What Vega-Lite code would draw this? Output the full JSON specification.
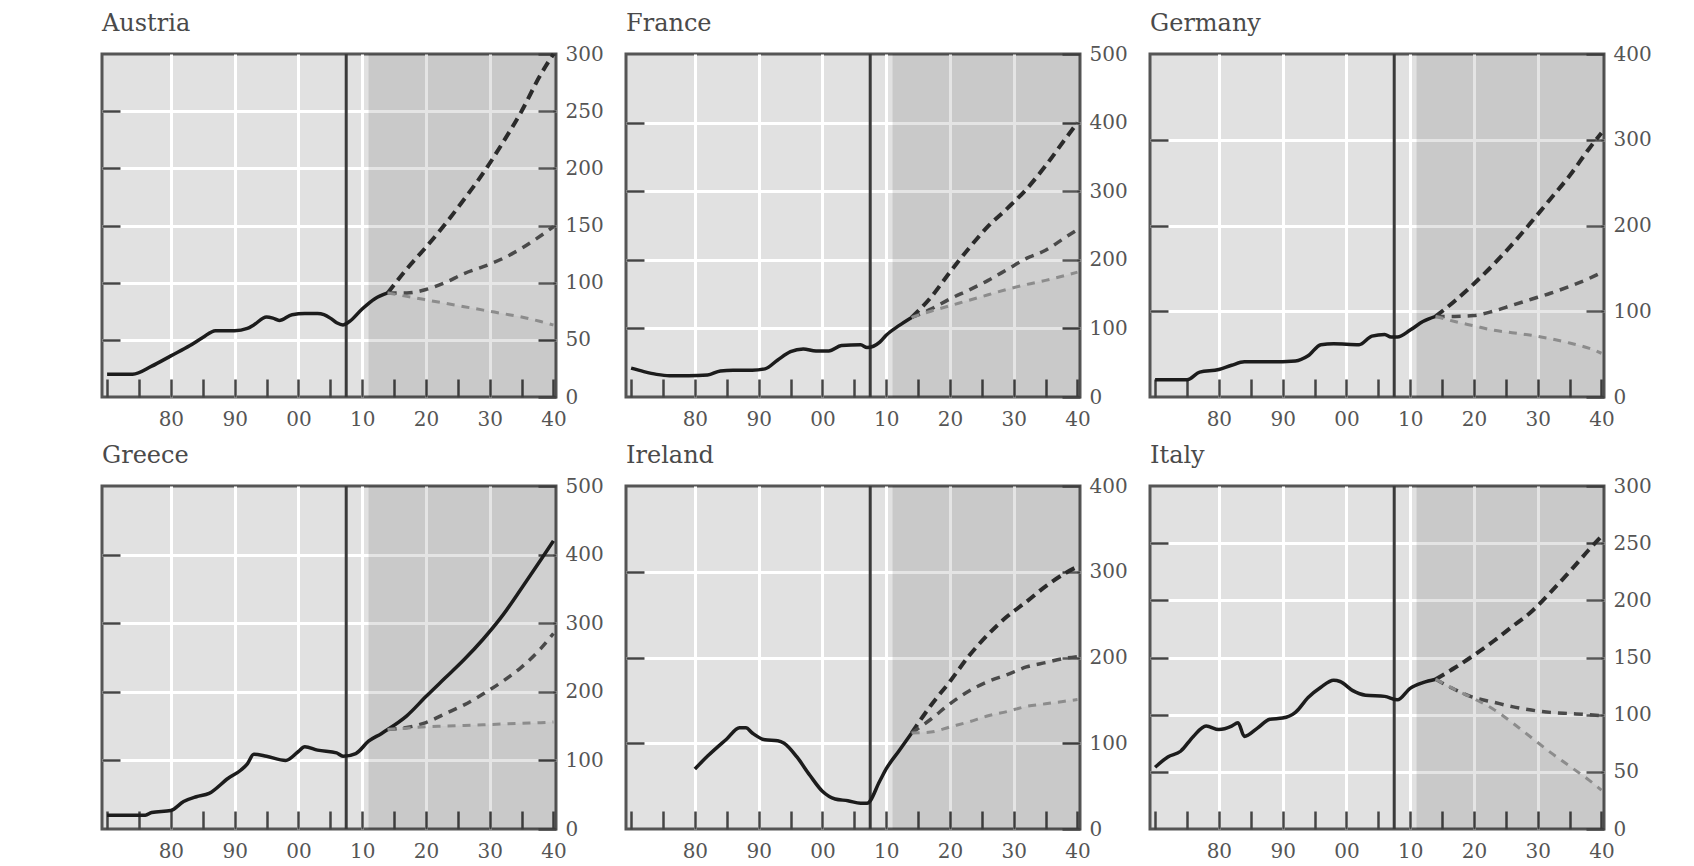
{
"$schema":"https://vega.github.io/schema/vega-lite/v6.json",
"background":"#ffffff",
"padding":{"left":98,"top":10,"right":5,"bottom":0},
"config":{
 "view":{"fill":"#e1e1e1","stroke":"#555555","strokeWidth":3},
 "title":{"font":"DejaVu Serif","fontSize":24,"fontWeight":"normal","color":"#4a4a4a","anchor":"start","frame":"group","baseline":"alphabetic","offset":8},
 "axis":{"labelFont":"DejaVu Serif","labelFontSize":20,"labelColor":"#555555"}
},
"datasets":{
 "austria":[
  {"year":1970,"hist":20},{"year":1974,"hist":20},{"year":1977,"hist":27},{"year":1980,"hist":36},{"year":1983,"hist":45},{"year":1985,"hist":52},{"year":1987,"hist":58},{"year":1990,"hist":58},{"year":1992,"hist":60},{"year":1993,"hist":63},{"year":1995,"hist":70},{"year":1996,"hist":69},{"year":1997,"hist":67},{"year":1999,"hist":72},{"year":2001,"hist":73},{"year":2003,"hist":73},{"year":2004,"hist":72},{"year":2005,"hist":69},{"year":2006,"hist":65},{"year":2007,"hist":63},{"year":2008,"hist":66},{"year":2010,"hist":77},{"year":2012,"hist":86},
  {"year":2014,"hist":91,"high":91,"mid":91,"low":91},
  {"year":2017,"high":112,"mid":91,"low":88},{"year":2020,"high":131,"mid":94,"low":85},{"year":2023,"high":151,"mid":100,"low":82},{"year":2026,"high":173,"mid":108,"low":79},{"year":2029,"high":196,"mid":114,"low":76},{"year":2032,"high":222,"mid":121,"low":73},{"year":2035,"high":250,"mid":130,"low":70},{"year":2038,"high":282,"mid":141,"low":66},{"year":2040,"high":300,"mid":149,"low":63}
 ],
 "france":[
  {"year":1970,"hist":42},{"year":1972,"hist":37},{"year":1974,"hist":33},{"year":1976,"hist":31},{"year":1979,"hist":31},{"year":1982,"hist":32},{"year":1984,"hist":38},{"year":1986,"hist":39},{"year":1989,"hist":39},{"year":1991,"hist":41},{"year":1993,"hist":54},{"year":1995,"hist":66},{"year":1997,"hist":70},{"year":1999,"hist":67},{"year":2001,"hist":67},{"year":2003,"hist":75},{"year":2006,"hist":76},{"year":2007,"hist":72},{"year":2009,"hist":80},{"year":2010,"hist":90},{"year":2012,"hist":104},
  {"year":2014,"hist":116,"high":116,"mid":116,"low":116},
  {"year":2017,"high":145,"mid":128,"low":125},{"year":2020,"high":182,"mid":143,"low":133},{"year":2023,"high":217,"mid":156,"low":141},{"year":2026,"high":249,"mid":170,"low":149},{"year":2029,"high":275,"mid":186,"low":157},{"year":2032,"high":303,"mid":202,"low":164},{"year":2035,"high":337,"mid":214,"low":170},{"year":2038,"high":375,"mid":232,"low":177},{"year":2040,"high":400,"mid":244,"low":182}
 ],
 "germany":[
  {"year":1970,"hist":20},{"year":1975,"hist":20},{"year":1977,"hist":29},{"year":1980,"hist":32},{"year":1982,"hist":37},{"year":1984,"hist":41},{"year":1988,"hist":41},{"year":1992,"hist":42},{"year":1994,"hist":48},{"year":1996,"hist":61},{"year":1998,"hist":62},{"year":2002,"hist":61},{"year":2004,"hist":71},{"year":2006,"hist":73},{"year":2007,"hist":70},{"year":2008,"hist":70},{"year":2010,"hist":78},{"year":2012,"hist":88},
  {"year":2014,"hist":94,"high":94,"mid":94,"low":94},
  {"year":2017,"high":112,"mid":94,"low":88},{"year":2020,"high":132,"mid":95,"low":83},{"year":2023,"high":154,"mid":100,"low":78},{"year":2026,"high":178,"mid":107,"low":75},{"year":2029,"high":204,"mid":114,"low":72},{"year":2032,"high":231,"mid":121,"low":68},{"year":2035,"high":258,"mid":129,"low":63},{"year":2038,"high":289,"mid":138,"low":57},{"year":2040,"high":308,"mid":145,"low":51}
 ],
 "greece":[
  {"year":1970,"hist":20},{"year":1976,"hist":20},{"year":1977,"hist":24},{"year":1980,"hist":27},{"year":1982,"hist":40},{"year":1984,"hist":47},{"year":1986,"hist":52},{"year":1989,"hist":74},{"year":1991,"hist":86},{"year":1992,"hist":95},{"year":1993,"hist":109},{"year":1995,"hist":106},{"year":1998,"hist":100},{"year":2000,"hist":113},{"year":2001,"hist":120},{"year":2003,"hist":115},{"year":2006,"hist":111},{"year":2007,"hist":106},{"year":2009,"hist":110},{"year":2011,"hist":128},{"year":2013,"hist":139},
  {"year":2014,"hist":145,"high":145,"mid":145,"low":145},
  {"year":2017,"high":165,"mid":148,"low":147},{"year":2020,"high":193,"mid":155,"low":149},{"year":2023,"high":220,"mid":168,"low":150},{"year":2026,"high":247,"mid":181,"low":151},{"year":2029,"high":277,"mid":197,"low":152},{"year":2032,"high":311,"mid":215,"low":153},{"year":2035,"high":351,"mid":236,"low":154},{"year":2038,"high":392,"mid":263,"low":155},{"year":2040,"high":420,"mid":285,"low":156}
 ],
 "ireland":[
  {"year":1980,"hist":70},{"year":1982,"hist":85},{"year":1985,"hist":105},{"year":1987,"hist":118},{"year":1988,"hist":118},{"year":1989,"hist":112},{"year":1991,"hist":104},{"year":1993,"hist":103},{"year":1994,"hist":100},{"year":1996,"hist":84},{"year":1998,"hist":63},{"year":2000,"hist":44},{"year":2002,"hist":35},{"year":2004,"hist":33},{"year":2006,"hist":30},{"year":2007,"hist":30},{"year":2009,"hist":56},{"year":2010,"hist":70},{"year":2012,"hist":91},
  {"year":2014,"hist":112,"high":112,"mid":112,"low":112},
  {"year":2017,"high":144,"mid":128,"low":113},{"year":2020,"high":172,"mid":146,"low":119},{"year":2023,"high":202,"mid":161,"low":125},{"year":2026,"high":227,"mid":172,"low":132},{"year":2029,"high":248,"mid":180,"low":137},{"year":2032,"high":265,"mid":189,"low":143},{"year":2035,"high":283,"mid":194,"low":146},{"year":2038,"high":298,"mid":199,"low":149},{"year":2040,"high":306,"mid":201,"low":151}
 ],
 "italy":[
  {"year":1970,"hist":54},{"year":1972,"hist":63},{"year":1974,"hist":68},{"year":1976,"hist":81},{"year":1978,"hist":90},{"year":1980,"hist":87},{"year":1982,"hist":90},{"year":1983,"hist":93},{"year":1984,"hist":81},{"year":1986,"hist":88},{"year":1988,"hist":96},{"year":1990,"hist":97},{"year":1992,"hist":102},{"year":1994,"hist":115},{"year":1996,"hist":124},{"year":1998,"hist":130},{"year":1999,"hist":129},{"year":2001,"hist":121},{"year":2003,"hist":117},{"year":2006,"hist":116},{"year":2008,"hist":113},{"year":2010,"hist":123},{"year":2012,"hist":128},
  {"year":2014,"hist":131,"high":131,"mid":131,"low":131},
  {"year":2017,"high":141,"mid":122,"low":122},{"year":2020,"high":152,"mid":115,"low":114},{"year":2023,"high":164,"mid":111,"low":105},{"year":2026,"high":177,"mid":107,"low":93},{"year":2029,"high":190,"mid":104,"low":80},{"year":2032,"high":207,"mid":102,"low":67},{"year":2035,"high":225,"mid":101,"low":55},{"year":2038,"high":244,"mid":100,"low":43},{"year":2040,"high":256,"mid":99,"low":34}
 ]
},
"columns":3,
"bounds":"flush",
"spacing":{"row":89,"column":70},
"concat":[
{"width":454,"height":343,"title":"Austria","data":{"name":"austria"},
 "resolve":{"axis":{"x":"independent","y":"independent"}},
 "layer":[
  {"data":{"values":[{}]},"mark":{"type":"rect","fill":"#000000","opacity":0.105},
   "encoding":{"x":{"datum":2011,"type":"quantitative","scale":{"domain":[1969.2,2040.4],"nice":false,"zero":false},"axis":null},"x2":{"datum":2040.4}}},
  {"transform":[{"filter":"isValid(datum.low) && isValid(datum.high)"}],"mark":{"type":"area","fill":"#ffffff","opacity":0.14,"interpolate":"monotone"},
   "encoding":{"x":{"field":"year","type":"quantitative","scale":{"domain":[1969.2,2040.4],"nice":false,"zero":false},"axis":null},"y":{"field":"low","type":"quantitative","scale":{"domain":[0,300],"nice":false},"axis":null},"y2":{"field":"high"}}},
  {"data":{"values":[{}]},"mark":{"type":"rule","stroke":"#3a3a3a","strokeWidth":3},
   "encoding":{"x":{"datum":2007.5,"type":"quantitative","scale":{"domain":[1969.2,2040.4],"nice":false,"zero":false},"axis":null}}},
  {"transform":[{"filter":"isValid(datum.hist)"}],"mark":{"type":"line","stroke":"#1c1c1c","strokeWidth":3.5,"interpolate":"monotone"},
   "encoding":{"x":{"field":"year","type":"quantitative","scale":{"domain":[1969.2,2040.4],"nice":false,"zero":false},"axis":{"orient":"bottom","values":[1980,1990,2000,2010,2020,2030],"grid":true,"gridColor":"#ffffff","gridWidth":3,"gridOpacity":1,"ticks":false,"labels":false,"domain":false,"title":null}},
    "y":{"field":"hist","type":"quantitative","scale":{"domain":[0,300],"nice":false},"axis":{"orient":"left","values":[50,100,150,200,250],"grid":true,"gridColor":"#ffffff","gridWidth":3,"gridOpacity":1,"ticks":true,"tickSize":-18,"tickWidth":2.5,"tickColor":"#444444","labels":false,"domain":false,"title":null,"minExtent":0,"maxExtent":0}}}},
  {"transform":[{"filter":"isValid(datum.high)"}],"mark":{"type":"line","stroke":"#2b2b2b","strokeWidth":4,"strokeDash":[10,6],"interpolate":"monotone"},
   "encoding":{"x":{"field":"year","type":"quantitative","scale":{"domain":[1969.2,2040.4],"nice":false,"zero":false},"axis":{"orient":"bottom","values":[1970,1975,1980,1985,1990,1995,2000,2005,2010,2015,2020,2025,2030,2035,2040],"grid":false,"ticks":true,"tickSize":-18,"tickWidth":2.5,"tickColor":"#444444","labels":true,"format":"d","labelExpr":"datum.value % 10 == 0 && datum.value >= 1980 ? substring(datum.label, 2) : ''","labelPadding":30,"labelOverlap":false,"labelFlush":false,"domain":false,"title":null}},
    "y":{"field":"high","type":"quantitative","scale":{"domain":[0,300],"nice":false},"axis":{"orient":"right","values":[0,50,100,150,200,250,300],"grid":false,"ticks":true,"tickSize":-18,"tickWidth":2.5,"tickColor":"#444444","labels":true,"labelPadding":27,"labelOverlap":false,"domain":false,"title":null}}}},
  {"transform":[{"filter":"isValid(datum.mid)"}],"mark":{"type":"line","stroke":"#4a4a4a","strokeWidth":3.5,"strokeDash":[9,7],"interpolate":"monotone"},
   "encoding":{"x":{"field":"year","type":"quantitative","scale":{"domain":[1969.2,2040.4],"nice":false,"zero":false},"axis":null},"y":{"field":"mid","type":"quantitative","scale":{"domain":[0,300],"nice":false},"axis":null}}},
  {"transform":[{"filter":"isValid(datum.low)"}],"mark":{"type":"line","stroke":"#8c8c8c","strokeWidth":3,"strokeDash":[8,7],"interpolate":"monotone"},
   "encoding":{"x":{"field":"year","type":"quantitative","scale":{"domain":[1969.2,2040.4],"nice":false,"zero":false},"axis":null},"y":{"field":"low","type":"quantitative","scale":{"domain":[0,300],"nice":false},"axis":null}}}
 ]},
{"width":454,"height":343,"title":"France","data":{"name":"france"},
 "resolve":{"axis":{"x":"independent","y":"independent"}},
 "layer":[
  {"data":{"values":[{}]},"mark":{"type":"rect","fill":"#000000","opacity":0.105},
   "encoding":{"x":{"datum":2011,"type":"quantitative","scale":{"domain":[1969.2,2040.4],"nice":false,"zero":false},"axis":null},"x2":{"datum":2040.4}}},
  {"transform":[{"filter":"isValid(datum.low) && isValid(datum.high)"}],"mark":{"type":"area","fill":"#ffffff","opacity":0.14,"interpolate":"monotone"},
   "encoding":{"x":{"field":"year","type":"quantitative","scale":{"domain":[1969.2,2040.4],"nice":false,"zero":false},"axis":null},"y":{"field":"low","type":"quantitative","scale":{"domain":[0,500],"nice":false},"axis":null},"y2":{"field":"high"}}},
  {"data":{"values":[{}]},"mark":{"type":"rule","stroke":"#3a3a3a","strokeWidth":3},
   "encoding":{"x":{"datum":2007.5,"type":"quantitative","scale":{"domain":[1969.2,2040.4],"nice":false,"zero":false},"axis":null}}},
  {"transform":[{"filter":"isValid(datum.hist)"}],"mark":{"type":"line","stroke":"#1c1c1c","strokeWidth":3.5,"interpolate":"monotone"},
   "encoding":{"x":{"field":"year","type":"quantitative","scale":{"domain":[1969.2,2040.4],"nice":false,"zero":false},"axis":{"orient":"bottom","values":[1980,1990,2000,2010,2020,2030],"grid":true,"gridColor":"#ffffff","gridWidth":3,"gridOpacity":1,"ticks":false,"labels":false,"domain":false,"title":null}},
    "y":{"field":"hist","type":"quantitative","scale":{"domain":[0,500],"nice":false},"axis":{"orient":"left","values":[100,200,300,400],"grid":true,"gridColor":"#ffffff","gridWidth":3,"gridOpacity":1,"ticks":true,"tickSize":-18,"tickWidth":2.5,"tickColor":"#444444","labels":false,"domain":false,"title":null,"minExtent":0,"maxExtent":0}}}},
  {"transform":[{"filter":"isValid(datum.high)"}],"mark":{"type":"line","stroke":"#2b2b2b","strokeWidth":4,"strokeDash":[10,6],"interpolate":"monotone"},
   "encoding":{"x":{"field":"year","type":"quantitative","scale":{"domain":[1969.2,2040.4],"nice":false,"zero":false},"axis":{"orient":"bottom","values":[1970,1975,1980,1985,1990,1995,2000,2005,2010,2015,2020,2025,2030,2035,2040],"grid":false,"ticks":true,"tickSize":-18,"tickWidth":2.5,"tickColor":"#444444","labels":true,"format":"d","labelExpr":"datum.value % 10 == 0 && datum.value >= 1980 ? substring(datum.label, 2) : ''","labelPadding":30,"labelOverlap":false,"labelFlush":false,"domain":false,"title":null}},
    "y":{"field":"high","type":"quantitative","scale":{"domain":[0,500],"nice":false},"axis":{"orient":"right","values":[0,100,200,300,400,500],"grid":false,"ticks":true,"tickSize":-18,"tickWidth":2.5,"tickColor":"#444444","labels":true,"labelPadding":27,"labelOverlap":false,"domain":false,"title":null}}}},
  {"transform":[{"filter":"isValid(datum.mid)"}],"mark":{"type":"line","stroke":"#4a4a4a","strokeWidth":3.5,"strokeDash":[9,7],"interpolate":"monotone"},
   "encoding":{"x":{"field":"year","type":"quantitative","scale":{"domain":[1969.2,2040.4],"nice":false,"zero":false},"axis":null},"y":{"field":"mid","type":"quantitative","scale":{"domain":[0,500],"nice":false},"axis":null}}},
  {"transform":[{"filter":"isValid(datum.low)"}],"mark":{"type":"line","stroke":"#8c8c8c","strokeWidth":3,"strokeDash":[8,7],"interpolate":"monotone"},
   "encoding":{"x":{"field":"year","type":"quantitative","scale":{"domain":[1969.2,2040.4],"nice":false,"zero":false},"axis":null},"y":{"field":"low","type":"quantitative","scale":{"domain":[0,500],"nice":false},"axis":null}}}
 ]},
{"width":454,"height":343,"title":"Germany","data":{"name":"germany"},
 "resolve":{"axis":{"x":"independent","y":"independent"}},
 "layer":[
  {"data":{"values":[{}]},"mark":{"type":"rect","fill":"#000000","opacity":0.105},
   "encoding":{"x":{"datum":2011,"type":"quantitative","scale":{"domain":[1969.2,2040.4],"nice":false,"zero":false},"axis":null},"x2":{"datum":2040.4}}},
  {"transform":[{"filter":"isValid(datum.low) && isValid(datum.high)"}],"mark":{"type":"area","fill":"#ffffff","opacity":0.14,"interpolate":"monotone"},
   "encoding":{"x":{"field":"year","type":"quantitative","scale":{"domain":[1969.2,2040.4],"nice":false,"zero":false},"axis":null},"y":{"field":"low","type":"quantitative","scale":{"domain":[0,400],"nice":false},"axis":null},"y2":{"field":"high"}}},
  {"data":{"values":[{}]},"mark":{"type":"rule","stroke":"#3a3a3a","strokeWidth":3},
   "encoding":{"x":{"datum":2007.5,"type":"quantitative","scale":{"domain":[1969.2,2040.4],"nice":false,"zero":false},"axis":null}}},
  {"transform":[{"filter":"isValid(datum.hist)"}],"mark":{"type":"line","stroke":"#1c1c1c","strokeWidth":3.5,"interpolate":"monotone"},
   "encoding":{"x":{"field":"year","type":"quantitative","scale":{"domain":[1969.2,2040.4],"nice":false,"zero":false},"axis":{"orient":"bottom","values":[1980,1990,2000,2010,2020,2030],"grid":true,"gridColor":"#ffffff","gridWidth":3,"gridOpacity":1,"ticks":false,"labels":false,"domain":false,"title":null}},
    "y":{"field":"hist","type":"quantitative","scale":{"domain":[0,400],"nice":false},"axis":{"orient":"left","values":[100,200,300],"grid":true,"gridColor":"#ffffff","gridWidth":3,"gridOpacity":1,"ticks":true,"tickSize":-18,"tickWidth":2.5,"tickColor":"#444444","labels":false,"domain":false,"title":null,"minExtent":0,"maxExtent":0}}}},
  {"transform":[{"filter":"isValid(datum.high)"}],"mark":{"type":"line","stroke":"#2b2b2b","strokeWidth":4,"strokeDash":[10,6],"interpolate":"monotone"},
   "encoding":{"x":{"field":"year","type":"quantitative","scale":{"domain":[1969.2,2040.4],"nice":false,"zero":false},"axis":{"orient":"bottom","values":[1970,1975,1980,1985,1990,1995,2000,2005,2010,2015,2020,2025,2030,2035,2040],"grid":false,"ticks":true,"tickSize":-18,"tickWidth":2.5,"tickColor":"#444444","labels":true,"format":"d","labelExpr":"datum.value % 10 == 0 && datum.value >= 1980 ? substring(datum.label, 2) : ''","labelPadding":30,"labelOverlap":false,"labelFlush":false,"domain":false,"title":null}},
    "y":{"field":"high","type":"quantitative","scale":{"domain":[0,400],"nice":false},"axis":{"orient":"right","values":[0,100,200,300,400],"grid":false,"ticks":true,"tickSize":-18,"tickWidth":2.5,"tickColor":"#444444","labels":true,"labelPadding":27,"labelOverlap":false,"domain":false,"title":null}}}},
  {"transform":[{"filter":"isValid(datum.mid)"}],"mark":{"type":"line","stroke":"#4a4a4a","strokeWidth":3.5,"strokeDash":[9,7],"interpolate":"monotone"},
   "encoding":{"x":{"field":"year","type":"quantitative","scale":{"domain":[1969.2,2040.4],"nice":false,"zero":false},"axis":null},"y":{"field":"mid","type":"quantitative","scale":{"domain":[0,400],"nice":false},"axis":null}}},
  {"transform":[{"filter":"isValid(datum.low)"}],"mark":{"type":"line","stroke":"#8c8c8c","strokeWidth":3,"strokeDash":[8,7],"interpolate":"monotone"},
   "encoding":{"x":{"field":"year","type":"quantitative","scale":{"domain":[1969.2,2040.4],"nice":false,"zero":false},"axis":null},"y":{"field":"low","type":"quantitative","scale":{"domain":[0,400],"nice":false},"axis":null}}}
 ]},
{"width":454,"height":343,"title":"Greece","data":{"name":"greece"},
 "resolve":{"axis":{"x":"independent","y":"independent"}},
 "layer":[
  {"data":{"values":[{}]},"mark":{"type":"rect","fill":"#000000","opacity":0.105},
   "encoding":{"x":{"datum":2011,"type":"quantitative","scale":{"domain":[1969.2,2040.4],"nice":false,"zero":false},"axis":null},"x2":{"datum":2040.4}}},
  {"transform":[{"filter":"isValid(datum.low) && isValid(datum.high)"}],"mark":{"type":"area","fill":"#ffffff","opacity":0.14,"interpolate":"monotone"},
   "encoding":{"x":{"field":"year","type":"quantitative","scale":{"domain":[1969.2,2040.4],"nice":false,"zero":false},"axis":null},"y":{"field":"low","type":"quantitative","scale":{"domain":[0,500],"nice":false},"axis":null},"y2":{"field":"high"}}},
  {"data":{"values":[{}]},"mark":{"type":"rule","stroke":"#3a3a3a","strokeWidth":3},
   "encoding":{"x":{"datum":2007.5,"type":"quantitative","scale":{"domain":[1969.2,2040.4],"nice":false,"zero":false},"axis":null}}},
  {"transform":[{"filter":"isValid(datum.hist)"}],"mark":{"type":"line","stroke":"#1c1c1c","strokeWidth":3.5,"interpolate":"monotone"},
   "encoding":{"x":{"field":"year","type":"quantitative","scale":{"domain":[1969.2,2040.4],"nice":false,"zero":false},"axis":{"orient":"bottom","values":[1980,1990,2000,2010,2020,2030],"grid":true,"gridColor":"#ffffff","gridWidth":3,"gridOpacity":1,"ticks":false,"labels":false,"domain":false,"title":null}},
    "y":{"field":"hist","type":"quantitative","scale":{"domain":[0,500],"nice":false},"axis":{"orient":"left","values":[100,200,300,400],"grid":true,"gridColor":"#ffffff","gridWidth":3,"gridOpacity":1,"ticks":true,"tickSize":-18,"tickWidth":2.5,"tickColor":"#444444","labels":false,"domain":false,"title":null,"minExtent":0,"maxExtent":0}}}},
  {"transform":[{"filter":"isValid(datum.high)"}],"mark":{"type":"line","stroke":"#1c1c1c","strokeWidth":3.5,"interpolate":"monotone"},
   "encoding":{"x":{"field":"year","type":"quantitative","scale":{"domain":[1969.2,2040.4],"nice":false,"zero":false},"axis":{"orient":"bottom","values":[1970,1975,1980,1985,1990,1995,2000,2005,2010,2015,2020,2025,2030,2035,2040],"grid":false,"ticks":true,"tickSize":-18,"tickWidth":2.5,"tickColor":"#444444","labels":true,"format":"d","labelExpr":"datum.value % 10 == 0 && datum.value >= 1980 ? substring(datum.label, 2) : ''","labelPadding":30,"labelOverlap":false,"labelFlush":false,"domain":false,"title":null}},
    "y":{"field":"high","type":"quantitative","scale":{"domain":[0,500],"nice":false},"axis":{"orient":"right","values":[0,100,200,300,400,500],"grid":false,"ticks":true,"tickSize":-18,"tickWidth":2.5,"tickColor":"#444444","labels":true,"labelPadding":27,"labelOverlap":false,"domain":false,"title":null}}}},
  {"transform":[{"filter":"isValid(datum.mid)"}],"mark":{"type":"line","stroke":"#4a4a4a","strokeWidth":3.5,"strokeDash":[9,7],"interpolate":"monotone"},
   "encoding":{"x":{"field":"year","type":"quantitative","scale":{"domain":[1969.2,2040.4],"nice":false,"zero":false},"axis":null},"y":{"field":"mid","type":"quantitative","scale":{"domain":[0,500],"nice":false},"axis":null}}},
  {"transform":[{"filter":"isValid(datum.low)"}],"mark":{"type":"line","stroke":"#8c8c8c","strokeWidth":3,"strokeDash":[8,7],"interpolate":"monotone"},
   "encoding":{"x":{"field":"year","type":"quantitative","scale":{"domain":[1969.2,2040.4],"nice":false,"zero":false},"axis":null},"y":{"field":"low","type":"quantitative","scale":{"domain":[0,500],"nice":false},"axis":null}}}
 ]},
{"width":454,"height":343,"title":"Ireland","data":{"name":"ireland"},
 "resolve":{"axis":{"x":"independent","y":"independent"}},
 "layer":[
  {"data":{"values":[{}]},"mark":{"type":"rect","fill":"#000000","opacity":0.105},
   "encoding":{"x":{"datum":2011,"type":"quantitative","scale":{"domain":[1969.2,2040.4],"nice":false,"zero":false},"axis":null},"x2":{"datum":2040.4}}},
  {"transform":[{"filter":"isValid(datum.low) && isValid(datum.high)"}],"mark":{"type":"area","fill":"#ffffff","opacity":0.14,"interpolate":"monotone"},
   "encoding":{"x":{"field":"year","type":"quantitative","scale":{"domain":[1969.2,2040.4],"nice":false,"zero":false},"axis":null},"y":{"field":"low","type":"quantitative","scale":{"domain":[0,400],"nice":false},"axis":null},"y2":{"field":"high"}}},
  {"data":{"values":[{}]},"mark":{"type":"rule","stroke":"#3a3a3a","strokeWidth":3},
   "encoding":{"x":{"datum":2007.5,"type":"quantitative","scale":{"domain":[1969.2,2040.4],"nice":false,"zero":false},"axis":null}}},
  {"transform":[{"filter":"isValid(datum.hist)"}],"mark":{"type":"line","stroke":"#1c1c1c","strokeWidth":3.5,"interpolate":"monotone"},
   "encoding":{"x":{"field":"year","type":"quantitative","scale":{"domain":[1969.2,2040.4],"nice":false,"zero":false},"axis":{"orient":"bottom","values":[1980,1990,2000,2010,2020,2030],"grid":true,"gridColor":"#ffffff","gridWidth":3,"gridOpacity":1,"ticks":false,"labels":false,"domain":false,"title":null}},
    "y":{"field":"hist","type":"quantitative","scale":{"domain":[0,400],"nice":false},"axis":{"orient":"left","values":[100,200,300],"grid":true,"gridColor":"#ffffff","gridWidth":3,"gridOpacity":1,"ticks":true,"tickSize":-18,"tickWidth":2.5,"tickColor":"#444444","labels":false,"domain":false,"title":null,"minExtent":0,"maxExtent":0}}}},
  {"transform":[{"filter":"isValid(datum.high)"}],"mark":{"type":"line","stroke":"#2b2b2b","strokeWidth":4,"strokeDash":[10,6],"interpolate":"monotone"},
   "encoding":{"x":{"field":"year","type":"quantitative","scale":{"domain":[1969.2,2040.4],"nice":false,"zero":false},"axis":{"orient":"bottom","values":[1970,1975,1980,1985,1990,1995,2000,2005,2010,2015,2020,2025,2030,2035,2040],"grid":false,"ticks":true,"tickSize":-18,"tickWidth":2.5,"tickColor":"#444444","labels":true,"format":"d","labelExpr":"datum.value % 10 == 0 && datum.value >= 1980 ? substring(datum.label, 2) : ''","labelPadding":30,"labelOverlap":false,"labelFlush":false,"domain":false,"title":null}},
    "y":{"field":"high","type":"quantitative","scale":{"domain":[0,400],"nice":false},"axis":{"orient":"right","values":[0,100,200,300,400],"grid":false,"ticks":true,"tickSize":-18,"tickWidth":2.5,"tickColor":"#444444","labels":true,"labelPadding":27,"labelOverlap":false,"domain":false,"title":null}}}},
  {"transform":[{"filter":"isValid(datum.mid)"}],"mark":{"type":"line","stroke":"#4a4a4a","strokeWidth":3.5,"strokeDash":[9,7],"interpolate":"monotone"},
   "encoding":{"x":{"field":"year","type":"quantitative","scale":{"domain":[1969.2,2040.4],"nice":false,"zero":false},"axis":null},"y":{"field":"mid","type":"quantitative","scale":{"domain":[0,400],"nice":false},"axis":null}}},
  {"transform":[{"filter":"isValid(datum.low)"}],"mark":{"type":"line","stroke":"#8c8c8c","strokeWidth":3,"strokeDash":[8,7],"interpolate":"monotone"},
   "encoding":{"x":{"field":"year","type":"quantitative","scale":{"domain":[1969.2,2040.4],"nice":false,"zero":false},"axis":null},"y":{"field":"low","type":"quantitative","scale":{"domain":[0,400],"nice":false},"axis":null}}}
 ]},
{"width":454,"height":343,"title":"Italy","data":{"name":"italy"},
 "resolve":{"axis":{"x":"independent","y":"independent"}},
 "layer":[
  {"data":{"values":[{}]},"mark":{"type":"rect","fill":"#000000","opacity":0.105},
   "encoding":{"x":{"datum":2011,"type":"quantitative","scale":{"domain":[1969.2,2040.4],"nice":false,"zero":false},"axis":null},"x2":{"datum":2040.4}}},
  {"transform":[{"filter":"isValid(datum.low) && isValid(datum.high)"}],"mark":{"type":"area","fill":"#ffffff","opacity":0.14,"interpolate":"monotone"},
   "encoding":{"x":{"field":"year","type":"quantitative","scale":{"domain":[1969.2,2040.4],"nice":false,"zero":false},"axis":null},"y":{"field":"low","type":"quantitative","scale":{"domain":[0,300],"nice":false},"axis":null},"y2":{"field":"high"}}},
  {"data":{"values":[{}]},"mark":{"type":"rule","stroke":"#3a3a3a","strokeWidth":3},
   "encoding":{"x":{"datum":2007.5,"type":"quantitative","scale":{"domain":[1969.2,2040.4],"nice":false,"zero":false},"axis":null}}},
  {"transform":[{"filter":"isValid(datum.hist)"}],"mark":{"type":"line","stroke":"#1c1c1c","strokeWidth":3.5,"interpolate":"monotone"},
   "encoding":{"x":{"field":"year","type":"quantitative","scale":{"domain":[1969.2,2040.4],"nice":false,"zero":false},"axis":{"orient":"bottom","values":[1980,1990,2000,2010,2020,2030],"grid":true,"gridColor":"#ffffff","gridWidth":3,"gridOpacity":1,"ticks":false,"labels":false,"domain":false,"title":null}},
    "y":{"field":"hist","type":"quantitative","scale":{"domain":[0,300],"nice":false},"axis":{"orient":"left","values":[50,100,150,200,250],"grid":true,"gridColor":"#ffffff","gridWidth":3,"gridOpacity":1,"ticks":true,"tickSize":-18,"tickWidth":2.5,"tickColor":"#444444","labels":false,"domain":false,"title":null,"minExtent":0,"maxExtent":0}}}},
  {"transform":[{"filter":"isValid(datum.high)"}],"mark":{"type":"line","stroke":"#2b2b2b","strokeWidth":4,"strokeDash":[10,6],"interpolate":"monotone"},
   "encoding":{"x":{"field":"year","type":"quantitative","scale":{"domain":[1969.2,2040.4],"nice":false,"zero":false},"axis":{"orient":"bottom","values":[1970,1975,1980,1985,1990,1995,2000,2005,2010,2015,2020,2025,2030,2035,2040],"grid":false,"ticks":true,"tickSize":-18,"tickWidth":2.5,"tickColor":"#444444","labels":true,"format":"d","labelExpr":"datum.value % 10 == 0 && datum.value >= 1980 ? substring(datum.label, 2) : ''","labelPadding":30,"labelOverlap":false,"labelFlush":false,"domain":false,"title":null}},
    "y":{"field":"high","type":"quantitative","scale":{"domain":[0,300],"nice":false},"axis":{"orient":"right","values":[0,50,100,150,200,250,300],"grid":false,"ticks":true,"tickSize":-18,"tickWidth":2.5,"tickColor":"#444444","labels":true,"labelPadding":27,"labelOverlap":false,"domain":false,"title":null}}}},
  {"transform":[{"filter":"isValid(datum.mid)"}],"mark":{"type":"line","stroke":"#4a4a4a","strokeWidth":3.5,"strokeDash":[9,7],"interpolate":"monotone"},
   "encoding":{"x":{"field":"year","type":"quantitative","scale":{"domain":[1969.2,2040.4],"nice":false,"zero":false},"axis":null},"y":{"field":"mid","type":"quantitative","scale":{"domain":[0,300],"nice":false},"axis":null}}},
  {"transform":[{"filter":"isValid(datum.low)"}],"mark":{"type":"line","stroke":"#8c8c8c","strokeWidth":3,"strokeDash":[8,7],"interpolate":"monotone"},
   "encoding":{"x":{"field":"year","type":"quantitative","scale":{"domain":[1969.2,2040.4],"nice":false,"zero":false},"axis":null},"y":{"field":"low","type":"quantitative","scale":{"domain":[0,300],"nice":false},"axis":null}}}
 ]}
]
}
